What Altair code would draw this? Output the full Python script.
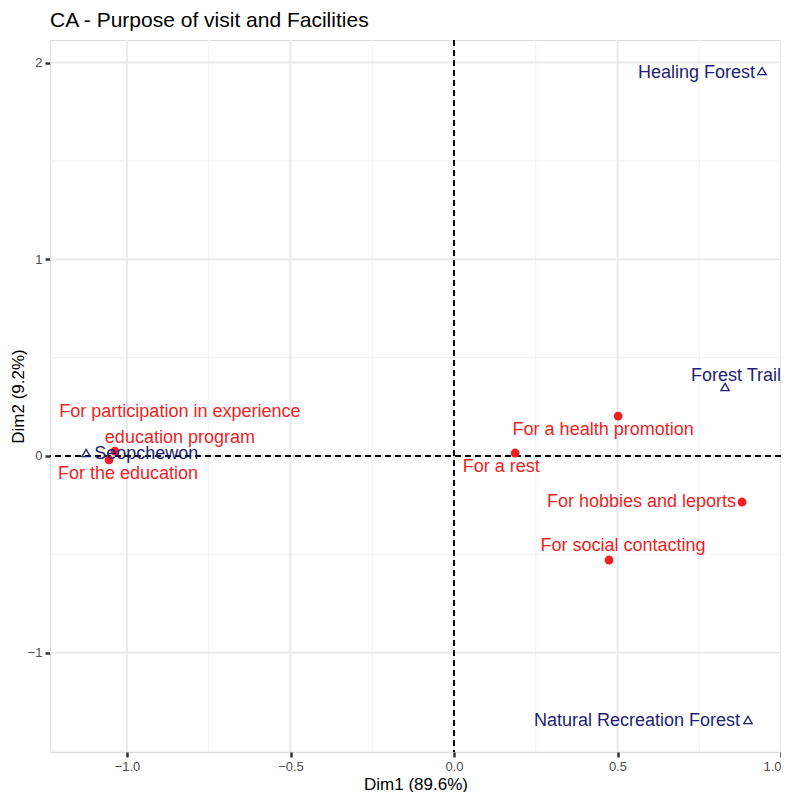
import altair as alt
import pandas as pd

# ---- data ----
col_names = ["Healing Forest", "Forest Trail", "Natural Recreation Forest", "Seopchewon"]
col_dim1 = [0.942, 0.829, 0.899, -1.125]
col_dim2 = [1.957, 0.351, -1.342, 0.015]

row_names = [
    "For participation in experience\neducation program",
    "For the education",
    "For a health promotion",
    "For a rest",
    "For hobbies and leports",
    "For social contacting",
]
row_dim1 = [-1.037, -1.055, 0.502, 0.187, 0.881, 0.474]
row_dim2 = [0.025, -0.020, 0.203, 0.015, -0.234, -0.529]

x_major = [-1.0, -0.5, 0.0, 0.5, 1.0]
x_minor = [-0.75, -0.25, 0.25, 0.75]
y_major = [-1, 0, 1, 2]
y_minor = [-1.5, -0.5, 0.5, 1.5]

# ---- styling ----
FONT = "Liberation Sans"
RED = "#EE1F26"
NAVY = "#1E1E74"

# label offsets (pixels) emulate ggrepel placement
label_style = {
    "Healing Forest": dict(dx=-7, dy=2, align="right"),
    "Forest Trail": dict(dx=11, dy=-11, align="center"),
    "Natural Recreation Forest": dict(dx=-8, dy=1, align="right"),
    "Seopchewon": dict(dx=8, dy=1, align="left"),
    row_names[0]: dict(dx=65, dy=-39, align="center"),
    "For the education": dict(dx=19, dy=14, align="center"),
    "For a health promotion": dict(dx=-15, dy=14, align="center"),
    "For a rest": dict(dx=-14, dy=14, align="center"),
    "For hobbies and leports": dict(dx=-6, dy=0, align="right"),
    "For social contacting": dict(dx=14, dy=-14, align="center"),
}

rows = pd.DataFrame({"name": row_names, "dim1": row_dim1, "dim2": row_dim2})
cols = pd.DataFrame({"name": col_names, "dim1": col_dim1, "dim2": col_dim2})

xscale = alt.Scale(domain=[-1.2355, 1.0], nice=False, zero=False)
yscale = alt.Scale(domain=[-1.505, 2.115], nice=False, zero=False)

xaxis = alt.Axis(values=x_major, format=".1f", title="Dim1 (89.6%)", grid=False,
                 domain=False, tickColor="#333333", tickWidth=2.5, tickSize=5,
                 labelColor="#4d4d4d", labelFontSize=13, labelPadding=3,
                 titleFontSize=17, titleColor="#000000", titleFontWeight="normal",
                 titlePadding=3, labelFont=FONT, titleFont=FONT)
yaxis = alt.Axis(values=y_major, format="d", title="Dim2 (9.2%)", grid=False,
                 domain=False, tickColor="#333333", tickWidth=2.5, tickSize=5,
                 labelColor="#4d4d4d", labelFontSize=13, labelPadding=3,
                 titleFontSize=17, titleColor="#000000", titleFontWeight="normal",
                 titlePadding=0, labelFont=FONT, titleFont=FONT)

X = alt.X("dim1:Q", scale=xscale, axis=xaxis)
Y = alt.Y("dim2:Q", scale=yscale, axis=yaxis)

layers = []
# grid lines
layers.append(alt.Chart(pd.DataFrame({"dim1": x_minor})).mark_rule(color="#f2f2f2", strokeWidth=1).encode(x=X))
layers.append(alt.Chart(pd.DataFrame({"dim2": y_minor})).mark_rule(color="#f2f2f2", strokeWidth=1).encode(y=Y))
layers.append(alt.Chart(pd.DataFrame({"dim1": x_major})).mark_rule(color="#ebebeb", strokeWidth=2).encode(x=X))
layers.append(alt.Chart(pd.DataFrame({"dim2": y_major})).mark_rule(color="#ebebeb", strokeWidth=2).encode(y=Y))
# origin dashed lines
layers.append(alt.Chart(pd.DataFrame({"dim1": [0.0]})).mark_rule(color="black", strokeWidth=2, strokeDash=[6, 4]).encode(x=X))
layers.append(alt.Chart(pd.DataFrame({"dim2": [0.0]})).mark_rule(color="black", strokeWidth=2, strokeDash=[6, 4]).encode(y=Y))

# points
layers.append(alt.Chart(rows).mark_point(shape="circle", filled=True, color=RED, size=78, opacity=1).encode(x=X, y=Y))
layers.append(alt.Chart(cols).mark_point(shape="triangle-up", filled=False, color=NAVY, size=70, strokeWidth=1.3, opacity=1).encode(x=X, y=Y))

# labels
for df, color in [(rows, RED), (cols, NAVY)]:
    for name in df["name"]:
        st = label_style[name]
        layers.append(
            alt.Chart(df).transform_filter(alt.datum.name == name)
            .mark_text(font=FONT, fontSize=18, color=color, baseline="middle",
                       lineBreak="\n", lineHeight=26, **st)
            .encode(x=X, y=Y, text="name:N")
        )

chart = alt.layer(*layers).properties(
    width=731,
    height=712,
    autosize=alt.AutoSizeParams(type="none"),
    padding={"left": 42, "top": 32, "right": 0, "bottom": 40},
    title=alt.TitleParams("CA - Purpose of visit and Facilities", anchor="start", frame="group",
                          font=FONT, fontSize=21, fontWeight="normal", color="#000000", offset=8),
).configure_view(stroke=None).configure(background="white")

chart.save("out.html", embed_options={"renderer": "svg", "actions": False})
